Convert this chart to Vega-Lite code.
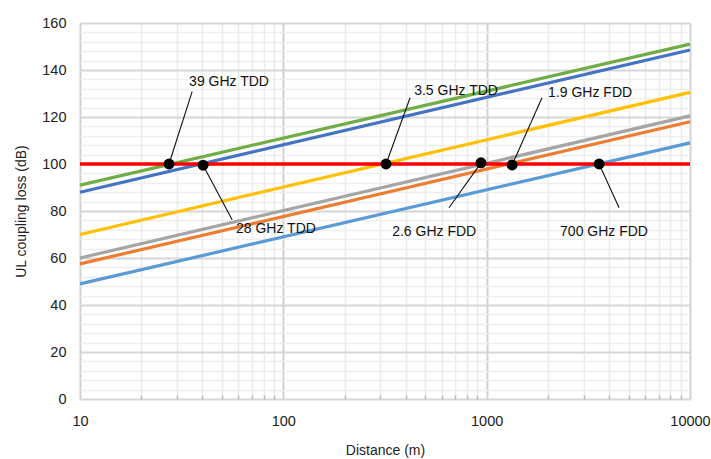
{
  "$schema": "https://vega.github.io/schema/vega-lite/v6.json",
  "width": 610,
  "height": 376,
  "autosize": "none",
  "padding": {"left": 80, "top": 23, "right": 21, "bottom": 60},
  "background": "white",
  "config": {"view": {"stroke": null}, "font": "Liberation Sans"},
  "datasets": {
    "series": [
      {"band": "39 GHz TDD", "d": 10, "loss": 91},
      {"band": "39 GHz TDD", "d": 10000, "loss": 151},
      {"band": "28 GHz TDD", "d": 10, "loss": 88},
      {"band": "28 GHz TDD", "d": 10000, "loss": 148.5},
      {"band": "3.5 GHz TDD", "d": 10, "loss": 70},
      {"band": "3.5 GHz TDD", "d": 10000, "loss": 130.5},
      {"band": "2.6 GHz FDD", "d": 10, "loss": 60},
      {"band": "2.6 GHz FDD", "d": 10000, "loss": 120.5},
      {"band": "1.9 GHz FDD", "d": 10, "loss": 57.5},
      {"band": "1.9 GHz FDD", "d": 10000, "loss": 118},
      {"band": "700 GHz FDD", "d": 10, "loss": 49},
      {"band": "700 GHz FDD", "d": 10000, "loss": 109}
    ],
    "threshold": [
      {"d": 10, "loss": 100},
      {"d": 10000, "loss": 100}
    ],
    "annot": [
      {"label": "39 GHz TDD", "d": 27.4, "loss": 100, "lx": 35.6, "ly": 130.8, "tx": 34.4, "ty": 135},
      {"label": "28 GHz TDD", "d": 40.3, "loss": 99.5, "lx": 56, "ly": 76.3, "tx": 58.5, "ty": 72.4},
      {"label": "3.5 GHz TDD", "d": 320, "loss": 100, "lx": 420, "ly": 128.2, "tx": 440, "ty": 131.2},
      {"label": "2.6 GHz FDD", "d": 938, "loss": 100.5, "lx": 653, "ly": 81.4, "tx": 343, "ty": 71.2},
      {"label": "1.9 GHz FDD", "d": 1334, "loss": 99.6, "lx": 1871, "ly": 128.2, "tx": 2005, "ty": 130.3},
      {"label": "700 GHz FDD", "d": 3573, "loss": 100, "lx": 4478, "ly": 81.4, "tx": 2296, "ty": 71.2}
    ]
  },
  "resolve": {"axis": {"x": "independent", "y": "independent"}},
  "layer": [
    {
      "data": {"name": "series"},
      "mark": {"type": "line", "strokeWidth": 3.2},
      "encoding": {
        "x": {"field": "d", "type": "quantitative", "scale": {"type": "log", "domain": [10, 10000], "nice": false},
          "axis": {"orient": "bottom", "values": [20,30,40,50,60,70,80,90,200,300,400,500,600,700,800,900,2000,3000,4000,5000,6000,7000,8000,9000],
            "grid": true, "gridColor": "#ebebeb", "gridWidth": 1.5, "labels": false, "ticks": true, "tickSize": -4, "tickColor": "#b8b8b8", "tickWidth": 1.5, "domain": false, "title": null}},
        "y": {"field": "loss", "type": "quantitative", "scale": {"domain": [0, 160], "nice": false},
          "axis": {"orient": "left", "values": [4,8,12,16,24,28,32,36,44,48,52,56,64,68,72,76,84,88,92,96,104,108,112,116,124,128,132,136,144,148,152,156],
            "grid": true, "gridColor": "#eeeeee", "gridWidth": 1.5, "labels": false, "ticks": false, "domain": false, "title": null}},
        "color": {"field": "band", "type": "nominal", "legend": null,
          "scale": {"domain": ["39 GHz TDD", "28 GHz TDD", "3.5 GHz TDD", "2.6 GHz FDD", "1.9 GHz FDD", "700 GHz FDD"],
            "range": ["#70ad47", "#4472c4", "#ffc000", "#a5a5a5", "#ed7d31", "#5b9bd5"]}}
      }
    },
    {
      "data": {"name": "threshold"},
      "mark": {"type": "line", "strokeWidth": 3.5, "color": "#ff0000"},
      "encoding": {
        "x": {"field": "d", "type": "quantitative",
          "axis": {"orient": "bottom", "values": [10, 100, 1000, 10000], "format": "d",
            "grid": true, "gridColor": "#d2d2d2", "gridWidth": 2, "domain": false, "ticks": false,
            "labelPadding": 15, "labelFontSize": 14.5, "labelColor": "#222", "labelFlush": false,
            "title": "Distance (m)", "titleFontSize": 14, "titleFontWeight": "normal", "titleColor": "#222", "titlePadding": 16}},
        "y": {"field": "loss", "type": "quantitative",
          "axis": {"orient": "left", "values": [0,20,40,60,80,100,120,140,160],
            "grid": true, "gridColor": "#d6d6d6", "gridWidth": 2, "domain": false, "ticks": false,
            "labelPadding": 14, "labelFontSize": 14.5, "labelColor": "#222",
            "title": "UL coupling loss (dB)", "titleFontSize": 14, "titleFontWeight": "normal", "titleColor": "#222", "titlePadding": 13}}
      }
    },
    {
      "data": {"name": "annot"},
      "mark": {"type": "rule", "color": "#111", "strokeWidth": 1.1},
      "encoding": {
        "x": {"field": "d", "type": "quantitative", "axis": null},
        "y": {"field": "loss", "type": "quantitative", "axis": null},
        "x2": {"field": "lx"},
        "y2": {"field": "ly"}
      }
    },
    {
      "data": {"name": "annot"},
      "mark": {"type": "point", "filled": true, "color": "#000", "size": 120, "opacity": 1},
      "encoding": {
        "x": {"field": "d", "type": "quantitative", "axis": null},
        "y": {"field": "loss", "type": "quantitative", "axis": null}
      }
    },
    {
      "data": {"name": "annot"},
      "mark": {"type": "text", "align": "left", "baseline": "middle", "fontSize": 14, "color": "#111"},
      "encoding": {
        "x": {"field": "tx", "type": "quantitative", "axis": null},
        "y": {"field": "ty", "type": "quantitative", "axis": null},
        "text": {"field": "label"}
      }
    }
  ]
}
